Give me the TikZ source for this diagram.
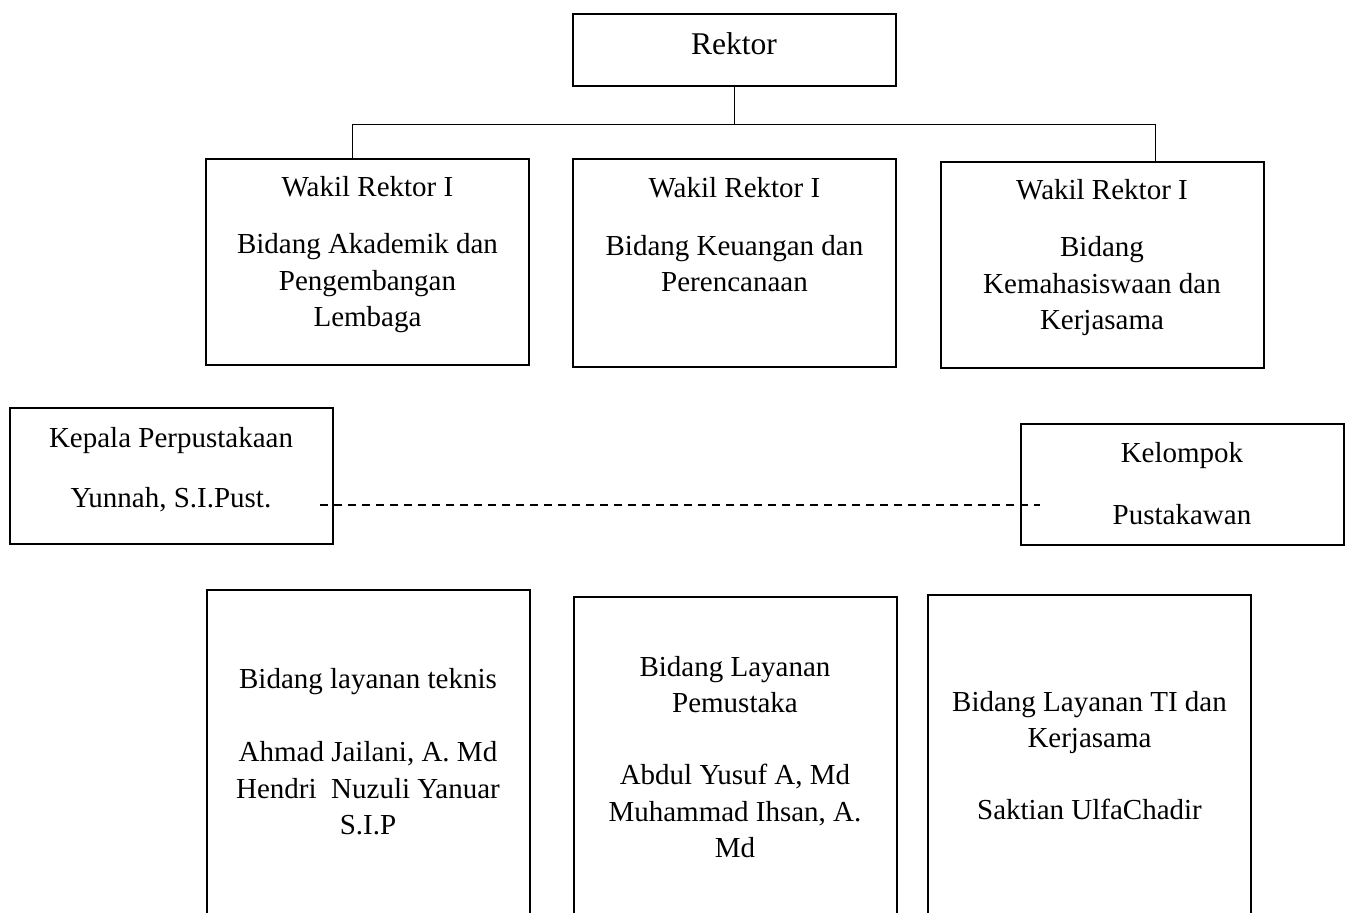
\documentclass[tikz,border=0pt]{standalone}
\usepackage{fontspec}
\setmainfont{Liberation Serif}
\newcommand{\boxfont}{\fontsize{14.5}{18.25}\selectfont}
\newcommand{\headfont}{\fontsize{15.8}{19}\selectfont}
\tikzset{
    box/.style={draw, line width=1pt, minimum width=161.5pt, inner sep=0pt},
    txt/.style={align=center, anchor=base, inner sep=0pt, font=\boxfont},
    link/.style={line width=0.5pt},
}

\begin{document}
\begin{tikzpicture}[x=0.5pt, y=-0.5pt]
        \clip (0, 0) rectangle (1346, 913);

        \node[box, minimum height=36pt] (rektor) at (734, 50) {};
        \node[box, minimum height=103pt] (wka) at (367.5, 262) {};
        \node[box, minimum height=104pt] (wkb) at (734.5, 263) {};
        \node[box, minimum height=103pt] (wkc) at (1102, 265) {};
        \node[box, minimum height=68pt] (kepala) at (171, 476) {};
        \node[box, minimum height=60.5pt] (kelompok) at (1182, 484.5) {};
        \node[box, minimum height=185pt] (lya) at (368, 775) {};
        \node[box, minimum height=181.5pt] (lyb) at (735, 778.5) {};
        \node[box, minimum height=182.5pt] (lyc) at (1089.5, 777.5) {};

        \node[txt, font=\headfont] (rektorT) at (734, 55) {Rektor};
        \node[txt] (wkaT) at (367.5, 327) {Wakil Rektor I\\[10.5pt]Bidang Akademik dan\\Pengembangan\\Lembaga};
        \node[txt] (wkbT) at (734.5, 292) {Wakil Rektor I\\[10.5pt]Bidang Keuangan dan\\Perencanaan};
        \node[txt] (wkcT) at (1102, 330) {Wakil Rektor I\\[10.5pt]Bidang\\Kemahasiswaan dan\\Kerjasama};
        \node[txt] (kepalaT) at (171, 508) {Kepala Perpustakaan\\[11.75pt]Yunnah, S.I.Pust.};
        \node[txt] (kelompokT) at (1182, 525) {Kelompok\\[12.75pt]Pustakawan};
        \node[txt] (lyaT) at (368, 835) {Bidang layanan teknis\\[18.5pt]Ahmad Jailani, A. Md\\Hendri~ Nuzuli Yanuar\\S.I.P};
        \node[txt] (lybT) at (735, 858) {Bidang Layanan\\Pemustaka\\[17.75pt]Abdul Yusuf A, Md\\Muhammad Ihsan, A.\\Md};
        \node[txt] (lycT) at (1089.5, 820) {Bidang Layanan TI dan\\Kerjasama\\[17.75pt]Saktian UlfaChadir};

        \coordinate (fork) at (734, 125);
        \coordinate (forkL) at (352, 125);
        \coordinate (forkR) at (1155, 125);
        \coordinate (dashA) at (320, 505);
        \coordinate (dashB) at (1040, 505);

        \draw[link] (rektor) -- (fork);
        \draw[link] (wka.north -| forkL) -- (forkL) -- (forkR) -- (wkc.north -| forkR);
        \draw[link, line width=0.75pt, dash pattern=on 4pt off 3pt] (dashA) -- (dashB);
\end{tikzpicture}
\end{document}
